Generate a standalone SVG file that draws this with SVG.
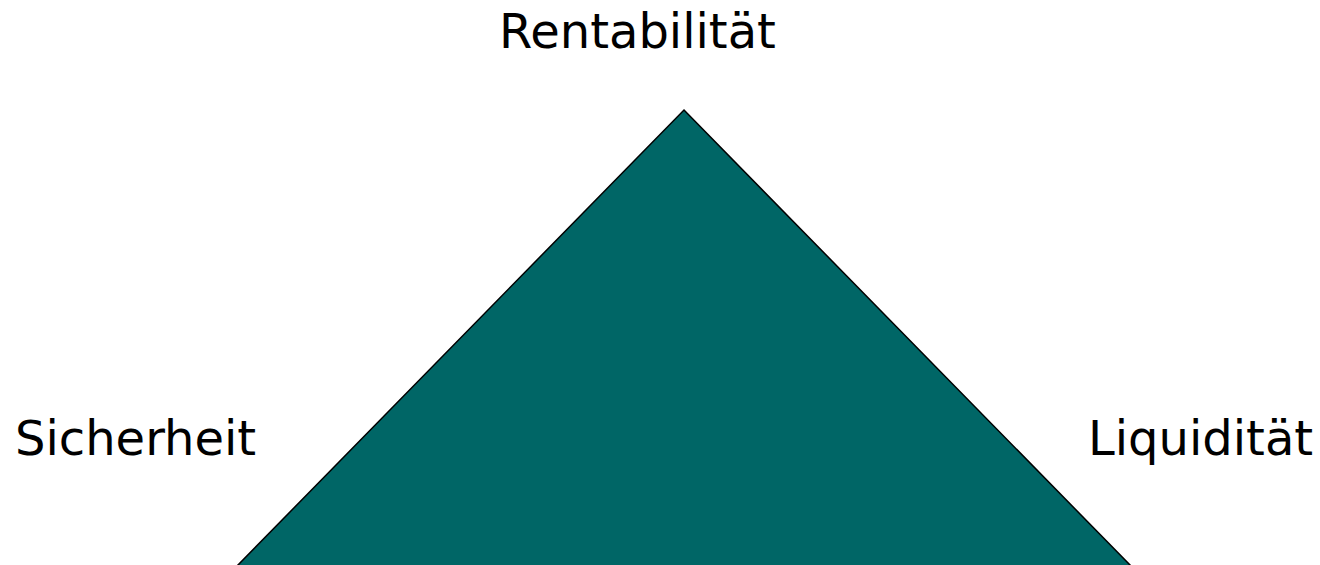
<svg xmlns="http://www.w3.org/2000/svg" width="1320" height="565" viewBox="0 0 1320 565">
<style>
.lbl{font-family:"DejaVu Sans",Verdana,sans-serif;font-size:48px;fill:#000}
.tri{fill:#006666;stroke:#000;stroke-width:1.5}
</style>
<rect width="1320" height="565" fill="#fff"/>
<g id="triangle"><polygon class="tri" points="684,110 1131,566 237,566"/></g>
<g id="connectors"></g>
<g id="rentabilitaet"><text class="lbl" x="499" y="48">Rentabilität</text></g>
<g id="sicherheit"><text class="lbl" x="15" y="455">Sicherheit</text></g>
<g id="liquiditaet"><text class="lbl" x="1088" y="455">Liquidität</text></g>
</svg>
